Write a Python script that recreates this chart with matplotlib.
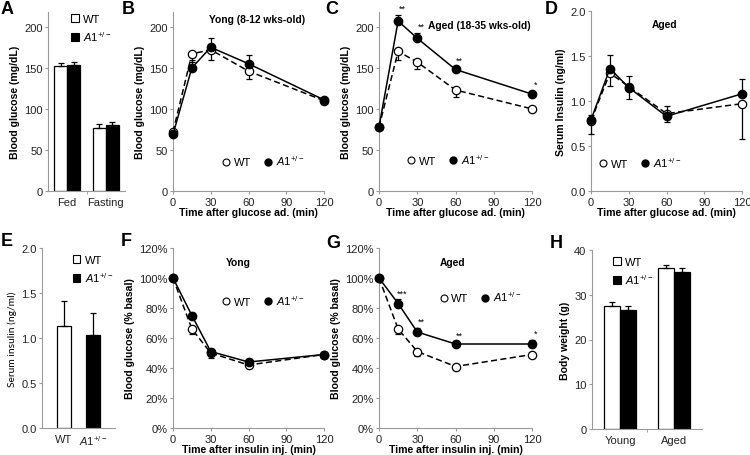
import matplotlib
matplotlib.use("Agg")
import matplotlib.pyplot as plt
from matplotlib.lines import Line2D
from matplotlib.patches import Patch
import numpy as np

plt.rcParams['font.family'] = ['Liberation Sans', 'DejaVu Sans']
plt.rcParams['mathtext.fontset'] = 'custom'
plt.rcParams['mathtext.rm'] = 'Liberation Sans'
plt.rcParams['mathtext.it'] = 'Liberation Sans:italic'
plt.rcParams['mathtext.bf'] = 'Liberation Sans:bold'

A1 = r'$\mathit{A1}^{+/-}$'

# ---- data ----
time = [0, 15, 30, 60, 120]

# A: blood glucose fed/fasting
a_groups = ['Fed', 'Fasting']
a_wt = [152, 77]
a_wt_err = [4, 4]
a_a1 = [153, 80]
a_a1_err = [4, 4]

# B: GTT young
b_wt = [72, 167, 172, 146, 110]
b_wt_err = [3, 10, 13, 9, 2]
b_a1 = [69, 150, 175, 155, 111]
b_a1_err = [3, 9, 11, 11, 2]

# C: GTT aged
c_wt = [78, 170, 157, 123, 100]
c_wt_err = [2, 10, 9, 8, 2]
c_a1 = [78, 207, 186, 148, 118]
c_a1_err = [2, 7, 6, 3, 3]
c_stars = ['', '**', '**', '**', '*']

# D: serum insulin during GTT aged
d_wt = [0.78, 1.31, 1.16, 0.86, 0.97]
d_wt_err = [0.15, 0.14, 0.14, 0.09, 0.39]
d_a1 = [0.79, 1.36, 1.15, 0.83, 1.08]
d_a1_err = [0.05, 0.15, 0.13, 0.11, 0.16]

# E: serum insulin
e_groups = ['WT', A1]
e_vals = [1.13, 1.03]
e_err = [0.28, 0.25]

# F: ITT young
f_wt = [100, 66, 50, 42, 49]
f_wt_err = [0, 3, 3, 2, 2]
f_a1 = [100, 75, 51, 44, 49]
f_a1_err = [0, 2, 2, 2, 2]

# G: ITT aged
g_wt = [100, 66, 51, 41, 49]
g_wt_err = [0, 3, 3, 2, 1]
g_a1 = [100, 83, 64, 56, 56]
g_a1_err = [0, 3, 3, 2, 3]
g_stars = ['', '***', '**', '**', '*']

# H: body weight
h_groups = ['Young', 'Aged']
h_wt = [27.5, 36.0]
h_wt_err = [0.8, 0.7]
h_a1 = [26.5, 35.0]
h_a1_err = [0.9, 0.9]

W, H = 750, 456
fig = plt.figure(figsize=(W/100, H/100), dpi=100)

SPINE = '#9a9a9a'
TXT = '#222222'
FS = 8
LFS = 7.6


def mkax(l, r, t, b):
    ax = fig.add_axes([l/W, 1-b/H, (r-l)/W, (b-t)/H])
    for s in ['top', 'right']:
        ax.spines[s].set_visible(False)
    for s in ['left', 'bottom']:
        ax.spines[s].set_color(SPINE)
        ax.spines[s].set_linewidth(0.8)
    ax.tick_params(colors=SPINE, labelcolor=TXT, labelsize=FS, length=2.5, width=0.8, pad=1.5)
    ax.patch.set_alpha(0)
    return ax


def line_panel(ax, wt, wt_err, a1, a1_err, ymax, ystep, fmt=None):
    ax.errorbar(time, wt, yerr=[wt_err, [0]*len(wt)], color='black', lw=1.1, ls=(0, (4, 2.2)),
                marker='o', ms=6, mfc='white', mec='black', mew=0.9, capsize=2, elinewidth=0.9,
                capthick=0.9, clip_on=False, zorder=3)
    ax.errorbar(time, a1, yerr=[[0]*len(a1), a1_err], color='black', lw=1.1, ls='-',
                marker='o', ms=6, mfc='black', mec='black', capsize=2, elinewidth=0.9,
                capthick=0.9, clip_on=False, zorder=4)
    ax.set_xlim(0, 120)
    ax.set_xticks([0, 30, 60, 90, 120])
    ax.set_yticks(np.arange(0, ymax + 1e-9, ystep))
    if fmt:
        ax.yaxis.set_major_formatter(fmt)


def line_legend(ax, x, y):
    h = [Line2D([], [], ls='none', marker='o', ms=5, mfc='white', mec='black', mew=0.8),
         Line2D([], [], ls='none', marker='o', ms=5, mfc='black', mec='black')]
    ax.legend(h, ['WT', A1], loc='center left', bbox_to_anchor=(x, y), ncol=2, frameon=False,
              fontsize=FS, handlelength=0.6, handletextpad=0.4, columnspacing=1.2, borderpad=0,
              borderaxespad=0)


def bar_legend(ax, x, y):
    h = [Patch(facecolor='white', edgecolor='black', lw=0.8),
         Patch(facecolor='black', edgecolor='black', lw=0.8)]
    ax.legend(h, ['WT', A1], loc='upper left', bbox_to_anchor=(x, y), frameon=False,
              fontsize=FS, handlelength=0.7, handleheight=0.7, handletextpad=0.4,
              labelspacing=0.45, borderpad=0, borderaxespad=0)


def bold_label(ax, xl=None, yl=None):
    if xl:
        ax.set_xlabel(xl, fontsize=LFS, fontweight='bold', labelpad=0)
    if yl:
        ax.set_ylabel(yl, fontsize=LFS, fontweight='bold', labelpad=3)


# ---- A ----
axA = mkax(48, 125, 13, 192)
xa = np.arange(len(a_groups))
bw = 0.34
axA.bar(xa - bw/2, a_wt, bw, color='white', edgecolor='black', lw=0.9,
        yerr=[[0]*2, a_wt_err], capsize=2, error_kw=dict(elinewidth=0.9, capthick=0.9))
axA.bar(xa + bw/2, a_a1, bw, color='black', edgecolor='black', lw=0.9,
        yerr=[[0]*2, a_a1_err], capsize=2, error_kw=dict(elinewidth=0.9, capthick=0.9))
axA.set_xlim(-0.5, 1.5)
axA.set_ylim(0, 218)
axA.set_yticks([0, 50, 100, 150, 200])
axA.set_xticks(xa)
axA.set_xticklabels(a_groups)
axA.set_xticks([0.5], minor=True)
axA.tick_params(axis='x', which='major', length=0, pad=4)
axA.tick_params(axis='x', which='minor', length=2.5, color=SPINE)
bold_label(axA, yl='Blood glucose (mg/dL)')
bar_legend(axA, 0.3, 0.99)

# ---- B ----
axB = mkax(173, 324, 13, 192)
line_panel(axB, b_wt, b_wt_err, b_a1, b_a1_err, 200, 50)
axB.set_ylim(0, 218)
bold_label(axB, 'Time after glucose ad. (min)', 'Blood glucose (mg/dL)')
axB.text(0.56, 0.96, 'Yong (8-12 wks-old)', transform=axB.transAxes, ha='center', va='center',
         fontsize=7.4, fontweight='bold')
line_legend(axB, 0.33, 0.17)

# ---- C ----
axC = mkax(379, 532, 13, 192)
line_panel(axC, c_wt, c_wt_err, c_a1, c_a1_err, 200, 50)
axC.set_ylim(0, 218)
bold_label(axC, 'Time after glucose ad. (min)', 'Blood glucose (mg/dL)')
axC.text(0.655, 0.93, 'Aged (18-35 wks-old)', transform=axC.transAxes, ha='center', va='center',
         fontsize=7.4, fontweight='bold')
for t, v, e, s in zip(time, c_a1, c_a1_err, c_stars):
    if s:
        axC.text(t + 3, v + e + 3, s, ha='center', va='bottom', fontsize=6.5, clip_on=False)
line_legend(axC, 0.19, 0.18)

# ---- D ----
axD = mkax(591, 742, 12, 192)
line_panel(axD, d_wt, d_wt_err, d_a1, d_a1_err, 2.0, 0.5,
           fmt=matplotlib.ticker.FormatStrFormatter('%.1f'))
axD.set_ylim(0, 2.0)
bold_label(axD, 'Time after glucose ad. (min)', 'Serum Insulin (ng/ml)')
axD.text(0.49, 0.93, 'Aged', transform=axD.transAxes, ha='center', va='center',
         fontsize=7.4, fontweight='bold')
line_legend(axD, 0.06, 0.16)

# ---- E ----
axE = mkax(42, 115, 249, 429)
xe = np.arange(len(e_groups))
axE.bar(xe, e_vals, 0.48, color=['white', 'black'], edgecolor='black', lw=0.9,
        yerr=[[0]*2, e_err], capsize=2, error_kw=dict(elinewidth=0.9, capthick=0.9))
axE.set_xlim(-0.76, 1.76)
axE.set_ylim(0, 2.0)
axE.set_yticks([0, 0.5, 1.0, 1.5, 2.0])
axE.yaxis.set_major_formatter(matplotlib.ticker.FormatStrFormatter('%.1f'))
axE.set_xticks(xe)
axE.set_xticklabels(e_groups)
axE.tick_params(axis='x', length=0, pad=4)
axE.set_ylabel('Serum insulin (ng/ml)', fontsize=7.4, family=['Lato', 'DejaVu Sans'],
               fontstyle='normal', fontweight='normal', labelpad=3)
bar_legend(axE, 0.42, 0.96)

# ---- F ----
pct = matplotlib.ticker.FuncFormatter(lambda v, p: f'{v:.0f}%')
axF = mkax(173, 324, 249, 429)
line_panel(axF, f_wt, f_wt_err, f_a1, f_a1_err, 120, 20, fmt=pct)
axF.set_ylim(0, 120)
bold_label(axF, 'Time after insulin inj. (min)', 'Blood glucose (% basal)')
axF.text(0.43, 0.92, 'Yong', transform=axF.transAxes, ha='center', va='center',
         fontsize=7.4, fontweight='bold')
line_legend(axF, 0.33, 0.71)

# ---- G ----
axG = mkax(379, 532, 249, 429)
line_panel(axG, g_wt, g_wt_err, g_a1, g_a1_err, 120, 20, fmt=pct)
axG.set_ylim(0, 120)
bold_label(axG, 'Time after insulin inj. (min)', 'Blood glucose (% basal)')
axG.text(0.48, 0.92, 'Aged', transform=axG.transAxes, ha='center', va='center',
         fontsize=7.4, fontweight='bold')
for t, v, e, s in zip(time, g_a1, g_a1_err, g_stars):
    if s:
        axG.text(t + 3, v + e + 1, s, ha='center', va='bottom', fontsize=6.5, clip_on=False)
line_legend(axG, 0.4, 0.73)

# ---- H ----
axH = mkax(592, 702, 251, 430)
xh = np.arange(len(h_groups))
bw = 0.3
axH.bar(xh - bw/2, h_wt, bw, color='white', edgecolor='black', lw=0.9,
        yerr=[[0]*2, h_wt_err], capsize=2, error_kw=dict(elinewidth=0.9, capthick=0.9))
axH.bar(xh + bw/2, h_a1, bw, color='black', edgecolor='black', lw=0.9,
        yerr=[[0]*2, h_a1_err], capsize=2, error_kw=dict(elinewidth=0.9, capthick=0.9))
axH.set_xlim(-0.52, 1.52)
axH.set_ylim(0, 40)
axH.set_yticks([0, 10, 20, 30, 40])
axH.set_xticks(xh)
axH.set_xticklabels(h_groups)
axH.set_xticks([0.5], minor=True)
axH.tick_params(axis='x', which='major', length=0, pad=4)
axH.tick_params(axis='x', which='minor', length=2.5, color=SPINE)
bold_label(axH, yl='Body weight (g)')
bar_legend(axH, 0.19, 0.96)

# ---- panel letters ----
for lab, x, y in [('A', 1, 1), ('B', 122, 1), ('C', 325, 1), ('D', 545, 1),
                  ('E', 1, 233), ('F', 121, 233), ('G', 326, 235), ('H', 550, 235)]:
    fig.text(x/W, 1 - y/H, lab, fontsize=13, fontweight='bold', ha='left', va='top')

fig.savefig('out.png', dpi=100)
